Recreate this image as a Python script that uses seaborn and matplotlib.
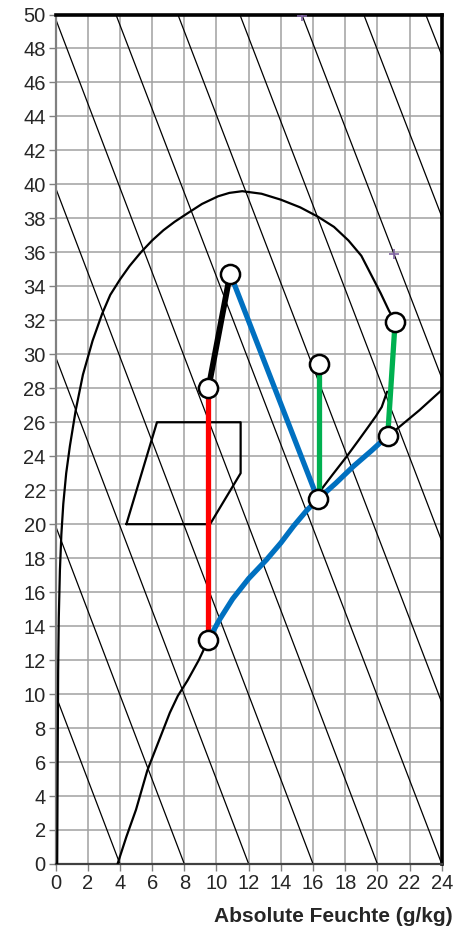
import numpy as np
import pandas as pd
import seaborn as sns
import matplotlib.pyplot as plt

# enthalpy lines, endpoints
enth_x0 = [0, 0, 0, 0, 0, 3.75, 7.6, 11.45, 15.3, 19.15, 23.0]
enth_y0 = [9.95, 19.9, 29.85, 39.8, 49.75, 50, 50, 50, 50, 50, 50]
enth_x1 = [4.0, 8.0, 12.0, 16.0, 20.0, 24.0, 24.0, 24.0, 24.0, 24.0, 24.0]
enth_y1 = [0, 0, 0, 0, 0, 0, 9.5, 19.0, 28.6, 38.1, 47.6]

# big upper curve
upper_x = [0.1, 0.13, 0.16, 0.2, 0.27, 0.36, 0.48, 0.66, 0.89, 1.25, 1.7, 2.3, 2.9,
           3.4, 4.0, 4.6, 5.3, 6.0, 6.7, 7.4, 8.2, 9.1, 10.1, 10.8, 11.6, 12.8,
           14.0, 15.2, 16.3, 17.3, 18.2, 19.0, 19.6, 20.2, 20.7, 21.1]
upper_y = [0, 6.0, 11.4, 14.5, 17.3, 19.4, 21.2, 23.0, 24.6, 26.7, 28.8, 30.8, 32.4,
           33.5, 34.4, 35.2, 36.0, 36.7, 37.3, 37.8, 38.3, 38.85, 39.3, 39.5, 39.6, 39.45,
           39.1, 38.65, 38.1, 37.5, 36.7, 35.8, 34.7, 33.6, 32.6, 31.9]

# lower curve
lower_x = [3.85, 4.4, 5.0, 5.7, 6.4, 7.1, 7.6, 8.2, 8.9, 9.5, 10.2, 11.0, 12.0,
           13.1, 14.0, 14.8, 15.6, 16.3, 17.4, 18.5, 19.6, 20.64, 21.2, 22.6, 24.0]
lower_y = [0, 1.6, 3.2, 5.5, 7.2, 8.9, 9.9, 10.8, 12.0, 13.2, 14.4, 15.6, 16.8,
           17.9, 18.9, 19.9, 20.8, 21.47, 22.4, 23.4, 24.3, 25.2, 25.6, 26.7, 27.9]

# short black curve right of the 16 g/kg point
side_x = [16.3, 16.4, 17.2, 18.08, 18.8, 19.44, 19.9, 20.27, 20.6]
side_y = [21.47, 21.9, 22.9, 23.97, 24.9, 25.74, 26.35, 26.9, 27.8]

# comfort polygon
poly_x = [4.4, 6.3, 11.5, 11.5, 9.6, 4.4]
poly_y = [20.0, 26.0, 26.0, 23.0, 20.0, 20.0]

# process lines
red_x, red_y = [9.5, 9.5], [13.2, 28.0]
black_x, black_y = [9.5, 10.85], [28.0, 34.75]
blue1_x, blue1_y = [10.85, 16.3], [34.75, 21.47]
blue2_x = [9.5, 10.2, 11.0, 12.0, 13.1, 14.0, 14.8, 15.6, 16.3, 17.4, 18.5, 19.6, 20.64]
blue2_y = [13.2, 14.4, 15.6, 16.8, 17.9, 18.9, 19.9, 20.8, 21.47, 22.4, 23.4, 24.3, 25.2]
green1_x, green1_y = [16.35, 16.35], [29.4, 21.47]
green2_x, green2_y = [21.1, 20.64], [31.9, 25.2]

# state points
pt_x = [9.5, 9.5, 10.85, 16.35, 16.3, 20.64, 21.1]
pt_y = [13.2, 28.0, 34.75, 29.4, 21.47, 25.2, 31.9]

cross_x = [15.33, 21.0]
cross_y = [49.9, 35.9]

xticks = list(range(0, 25, 2))
yticks = list(range(0, 51, 2))

sns.set_style('white')
plt.rcParams['font.family'] = ['Liberation Sans', 'DejaVu Sans']

fig = plt.figure(figsize=(4.67, 9.30), dpi=100)
ax = fig.add_axes([0.119, 0.071, 0.827, 0.9134])

for i in range(len(enth_x0)):
    sns.lineplot(x=[enth_x0[i], enth_x1[i]], y=[enth_y0[i], enth_y1[i]], ax=ax,
                 color='black', linewidth=0.9, sort=False, estimator=None, zorder=2)

for cx, cy in [(upper_x, upper_y), (lower_x, lower_y), (side_x, side_y), (poly_x, poly_y)]:
    sns.lineplot(x=cx, y=cy, ax=ax, color='black', linewidth=1.6,
                 sort=False, estimator=None, zorder=3)

sns.lineplot(x=red_x, y=red_y, ax=ax, color='#FF0000', linewidth=3.8,
             sort=False, estimator=None, zorder=4)
sns.lineplot(x=black_x, y=black_y, ax=ax, color='black', linewidth=4.2,
             sort=False, estimator=None, zorder=4)
sns.lineplot(x=blue1_x, y=blue1_y, ax=ax, color='#0070C0', linewidth=3.8,
             sort=False, estimator=None, zorder=4)
sns.lineplot(x=blue2_x, y=blue2_y, ax=ax, color='#0070C0', linewidth=3.8,
             sort=False, estimator=None, zorder=4)
sns.lineplot(x=green1_x, y=green1_y, ax=ax, color='#00B050', linewidth=3.8,
             sort=False, estimator=None, zorder=4)
sns.lineplot(x=green2_x, y=green2_y, ax=ax, color='#00B050', linewidth=3.8,
             sort=False, estimator=None, zorder=4)

sns.scatterplot(x=pt_x, y=pt_y, ax=ax, s=190, color='white', edgecolor='black',
                linewidth=1.8, zorder=6)
sns.scatterplot(x=cross_x, y=cross_y, ax=ax, s=45, marker='+', color='#8064A2',
                linewidth=1.2, zorder=6)

ax.set_xlim(0, 24)
ax.set_ylim(0, 50)
ax.set_xticks(xticks)
ax.set_yticks(yticks)
ax.grid(True, color='#A0A0A0', linewidth=1.1)
ax.set_axisbelow(True)
ax.tick_params(axis='both', direction='out', length=5, width=1, color='#808080',
               labelsize=14.5, pad=2, bottom=True, left=True)

for side in ['top', 'right']:
    ax.spines[side].set_color('black')
    ax.spines[side].set_linewidth(2.6)
ax.spines['left'].set_color('#808080')
ax.spines['left'].set_linewidth(1.6)
ax.spines['bottom'].set_color('#404040')
ax.spines['bottom'].set_linewidth(1.6)

ax.set_ylabel('')
ax.set_xlabel('Absolute Feuchte (g/kg)', fontsize=15, fontweight='bold')
ax.xaxis.set_label_coords(0.72, -0.062)
ax.xaxis.label.set_va('center')

plt.savefig('out.png', dpi=100)
